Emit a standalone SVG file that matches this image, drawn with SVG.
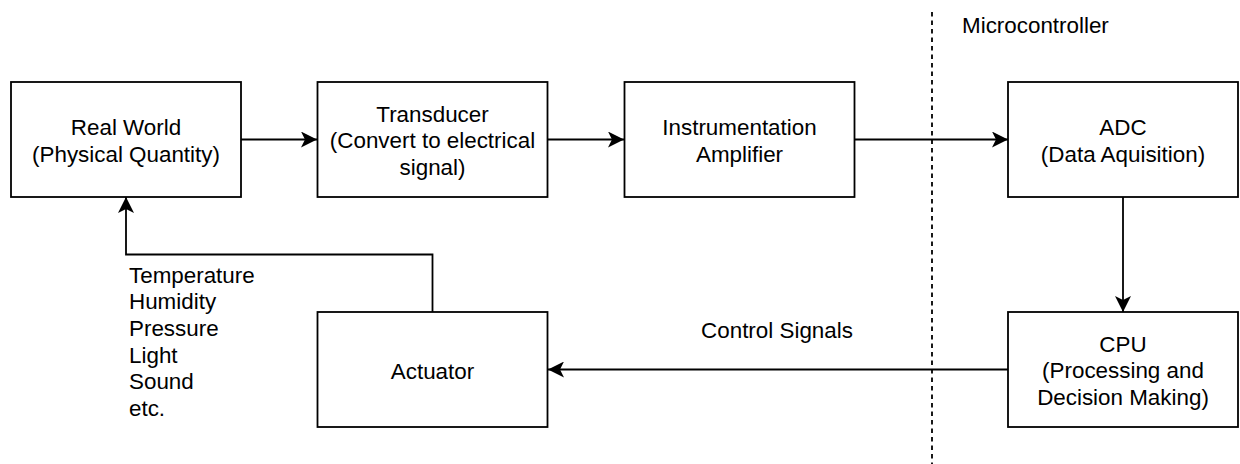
<svg xmlns="http://www.w3.org/2000/svg" width="1240" height="464" viewBox="0 0 1240 464">
<style>
.box{fill:#fff;stroke:#000;stroke-width:1.8}
.t{font-family:"Liberation Sans",Arial,sans-serif;font-size:22.4px;fill:#000}
.c{text-anchor:middle}
.e{fill:none;stroke:#000;stroke-width:1.8}
</style>
<defs>
<marker id="arr" viewBox="0 0 16 16" refX="16" refY="8" markerWidth="16" markerHeight="16" markerUnits="userSpaceOnUse" orient="auto">
<path d="M0,0 L16,8 L0,16 L4,8 Z" fill="#000"/>
</marker>
</defs>
<rect width="1240" height="464" fill="#fff"/>
<g id="connectors">
<line x1="932" y1="12" x2="932" y2="464" stroke="#000" stroke-width="1.8" stroke-dasharray="4.5 4"/>
<path class="e" d="M241,139.5 H317" marker-end="url(#arr)"/>
<path class="e" d="M547.5,139.5 H624" marker-end="url(#arr)"/>
<path class="e" d="M854.5,139.5 H1008" marker-end="url(#arr)"/>
<path class="e" d="M1123,197 V312" marker-end="url(#arr)"/>
<path class="e" d="M1008,369.5 H548" marker-end="url(#arr)"/>
<path class="e" d="M432.5,312 V254.5 H126 V197" marker-end="url(#arr)"/>
</g>
<g id="real-world">
<rect class="box" x="11" y="82" width="230" height="115"/>
<text class="t c" x="126" y="135">Real World</text>
<text class="t c" x="126" y="161.9">(Physical Quantity)</text>
</g>
<g id="transducer">
<rect class="box" x="317.5" y="82" width="230" height="115"/>
<text class="t c" x="432.5" y="121.5">Transducer</text>
<text class="t c" x="432.5" y="148.4">(Convert to electrical</text>
<text class="t c" x="432.5" y="175.3">signal)</text>
</g>
<g id="instrumentation-amplifier">
<rect class="box" x="624.5" y="82" width="230" height="115"/>
<text class="t c" x="739.5" y="135">Instrumentation</text>
<text class="t c" x="739.5" y="161.9">Amplifier</text>
</g>
<g id="adc">
<rect class="box" x="1008" y="82" width="230" height="115"/>
<text class="t c" x="1123" y="135">ADC</text>
<text class="t c" x="1123" y="161.9">(Data Aquisition)</text>
</g>
<g id="cpu">
<rect class="box" x="1008" y="312" width="230" height="115"/>
<text class="t c" x="1123" y="351.5">CPU</text>
<text class="t c" x="1123" y="378.4">(Processing and</text>
<text class="t c" x="1123" y="405.3">Decision Making)</text>
</g>
<g id="actuator">
<rect class="box" x="317.5" y="312" width="230" height="115"/>
<text class="t c" x="432.5" y="378.5">Actuator</text>
</g>
<g id="microcontroller-label">
<text class="t" x="962" y="33">Microcontroller</text>
</g>
<g id="control-signals-label">
<text class="t c" x="777" y="338">Control Signals</text>
</g>
<g id="quantities-label">
<text class="t" x="129" y="282.5">Temperature</text>
<text class="t" x="129" y="309.2">Humidity</text>
<text class="t" x="129" y="335.9">Pressure</text>
<text class="t" x="129" y="362.6">Light</text>
<text class="t" x="129" y="389.3">Sound</text>
<text class="t" x="129" y="416">etc.</text>
</g>
</svg>
